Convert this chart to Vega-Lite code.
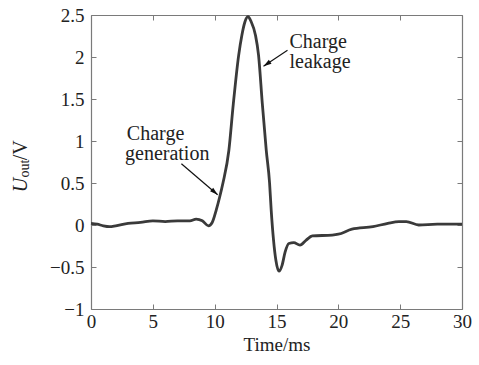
{
  "$schema": "https://vega.github.io/schema/vega-lite/v6.json",
  "width": 371,
  "height": 294,
  "autosize": {"type": "none"},
  "padding": {"left": 91, "top": 15, "right": 17, "bottom": 56},
  "background": "white",
  "config": {
    "view": {"stroke": null},
    "font": "Liberation Serif",
    "axis": {
      "grid": false,
      "labelFlush": false,
      "domainColor": "#7a7a7a",
      "tickColor": "#7a7a7a",
      "domainWidth": 1.2,
      "tickWidth": 1,
      "labelFont": "Liberation Serif",
      "labelFontSize": 19,
      "labelColor": "#222",
      "titleFont": "Liberation Serif",
      "titleFontSize": 19,
      "titleFontWeight": "normal",
      "titleColor": "#222"
    }
  },
  "datasets": {
    "signal": [
      {"t": 0, "v": 0.02}, {"t": 0.5, "v": 0.01}, {"t": 1, "v": -0.01}, {"t": 1.5, "v": -0.02},
      {"t": 2, "v": -0.01}, {"t": 3, "v": 0.02}, {"t": 4, "v": 0.03}, {"t": 5, "v": 0.05},
      {"t": 6, "v": 0.04}, {"t": 7, "v": 0.05}, {"t": 8, "v": 0.05}, {"t": 8.5, "v": 0.07},
      {"t": 9, "v": 0.05}, {"t": 9.5, "v": -0.01}, {"t": 9.8, "v": 0.03}, {"t": 10.13, "v": 0.18},
      {"t": 10.4, "v": 0.33}, {"t": 10.67, "v": 0.5}, {"t": 11.15, "v": 0.89}, {"t": 11.5, "v": 1.43},
      {"t": 11.94, "v": 2.02}, {"t": 12.2, "v": 2.26}, {"t": 12.45, "v": 2.42}, {"t": 12.7, "v": 2.48},
      {"t": 12.95, "v": 2.42}, {"t": 13.3, "v": 2.26}, {"t": 13.55, "v": 2.02}, {"t": 13.85, "v": 1.45},
      {"t": 14.17, "v": 0.89}, {"t": 14.44, "v": 0.5}, {"t": 14.57, "v": 0.18}, {"t": 14.76, "v": -0.18},
      {"t": 14.95, "v": -0.42}, {"t": 15.2, "v": -0.55}, {"t": 15.45, "v": -0.48}, {"t": 15.7, "v": -0.32},
      {"t": 16.0, "v": -0.22}, {"t": 16.4, "v": -0.21}, {"t": 16.9, "v": -0.24}, {"t": 17.4, "v": -0.18},
      {"t": 17.9, "v": -0.13}, {"t": 19.5, "v": -0.12}, {"t": 20, "v": -0.11}, {"t": 21.1, "v": -0.05},
      {"t": 22.8, "v": -0.02}, {"t": 24, "v": 0.02}, {"t": 24.9, "v": 0.04}, {"t": 25.5, "v": 0.04},
      {"t": 26.5, "v": 0.0}, {"t": 28, "v": 0.01}, {"t": 30, "v": 0.01}
    ],
    "labels": [
      {"t": 16.05, "v": 2.107, "label": "Charge"},
      {"t": 16.05, "v": 1.875, "label": "leakage"},
      {"t": 2.9, "v": 1.01, "label": "Charge"},
      {"t": 2.75, "v": 0.77, "label": "generation"}
    ],
    "arrows": [
      {"t": 15.89, "v": 2.08, "t2": 13.95, "v2": 1.89, "angle": 236},
      {"t": 7.31, "v": 0.73, "t2": 10.24, "v2": 0.36, "angle": 131.6}
    ]
  },
  "layer": [
    {
      "data": {"name": "signal"},
      "mark": {"type": "line", "color": "#3a3a3a", "strokeWidth": 2.8, "interpolate": "monotone"},
      "encoding": {
        "x": {"field": "t", "type": "quantitative",
              "scale": {"domain": [0, 30], "nice": false, "zero": false},
              "axis": {"title": "Time/ms", "values": [0, 5, 10, 15, 20, 25, 30], "format": "~g", "tickSize": -5, "labelPadding": 8, "titlePadding": 4, "orient": "bottom"}},
        "y": {"field": "v", "type": "quantitative",
              "scale": {"domain": [-1, 2.5], "nice": false, "zero": false},
              "axis": {"title": null, "values": [-1, -0.5, 0, 0.5, 1, 1.5, 2, 2.5], "format": "~g", "tickSize": -5, "labelPadding": 12, "orient": "left"}}
      }
    },
    {
      "data": {"name": "signal"},
      "mark": {"type": "line", "opacity": 0},
      "encoding": {
        "x": {"field": "t", "type": "quantitative",
              "axis": {"orient": "top", "title": null, "labels": false, "values": [0, 5, 10, 15, 20, 25, 30], "tickSize": -5}},
        "y": {"field": "v", "type": "quantitative",
              "axis": {"orient": "right", "title": null, "labels": false, "values": [-1, -0.5, 0, 0.5, 1, 1.5, 2, 2.5], "tickSize": -5}}
      }
    },
    {
      "data": {"name": "labels"},
      "mark": {"type": "text", "align": "left", "baseline": "alphabetic", "font": "Liberation Serif", "fontSize": 20, "color": "#222"},
      "encoding": {
        "x": {"field": "t", "type": "quantitative", "axis": null},
        "y": {"field": "v", "type": "quantitative", "axis": null},
        "text": {"field": "label"}
      }
    },
    {
      "data": {"name": "arrows"},
      "mark": {"type": "rule", "color": "#111", "strokeWidth": 1.2},
      "encoding": {
        "x": {"field": "t", "type": "quantitative", "axis": null},
        "y": {"field": "v", "type": "quantitative", "axis": null},
        "x2": {"field": "t2"},
        "y2": {"field": "v2"}
      }
    },
    {
      "data": {"name": "arrows"},
      "mark": {"type": "point", "shape": "M0,0L-0.6,2L0.6,2Z", "filled": true, "color": "#111", "size": 64, "opacity": 1},
      "encoding": {
        "x": {"field": "t2", "type": "quantitative", "axis": null},
        "y": {"field": "v2", "type": "quantitative", "axis": null},
        "angle": {"field": "angle", "type": "quantitative", "scale": null}
      }
    },
    {
      "data": {"values": [{"t": -5.65, "v": 0.39, "s": "U"}]},
      "mark": {"type": "text", "angle": 270, "align": "left", "baseline": "middle", "font": "Liberation Serif", "fontStyle": "italic", "fontSize": 20, "color": "#222"},
      "encoding": {
        "x": {"field": "t", "type": "quantitative", "axis": null},
        "y": {"field": "v", "type": "quantitative", "axis": null},
        "text": {"field": "s"}
      }
    },
    {
      "data": {"values": [{"t": -5.3, "v": 0.565, "s": "out"}]},
      "mark": {"type": "text", "angle": 270, "align": "left", "baseline": "middle", "font": "Liberation Serif", "fontSize": 14, "color": "#222"},
      "encoding": {
        "x": {"field": "t", "type": "quantitative", "axis": null},
        "y": {"field": "v", "type": "quantitative", "axis": null},
        "text": {"field": "s"}
      }
    },
    {
      "data": {"values": [{"t": -5.65, "v": 0.77, "s": "/V"}]},
      "mark": {"type": "text", "angle": 270, "align": "left", "baseline": "middle", "font": "Liberation Serif", "fontSize": 20, "color": "#222"},
      "encoding": {
        "x": {"field": "t", "type": "quantitative", "axis": null},
        "y": {"field": "v", "type": "quantitative", "axis": null},
        "text": {"field": "s"}
      }
    }
  ],
  "resolve": {"axis": {"x": "independent", "y": "independent"}}
}
